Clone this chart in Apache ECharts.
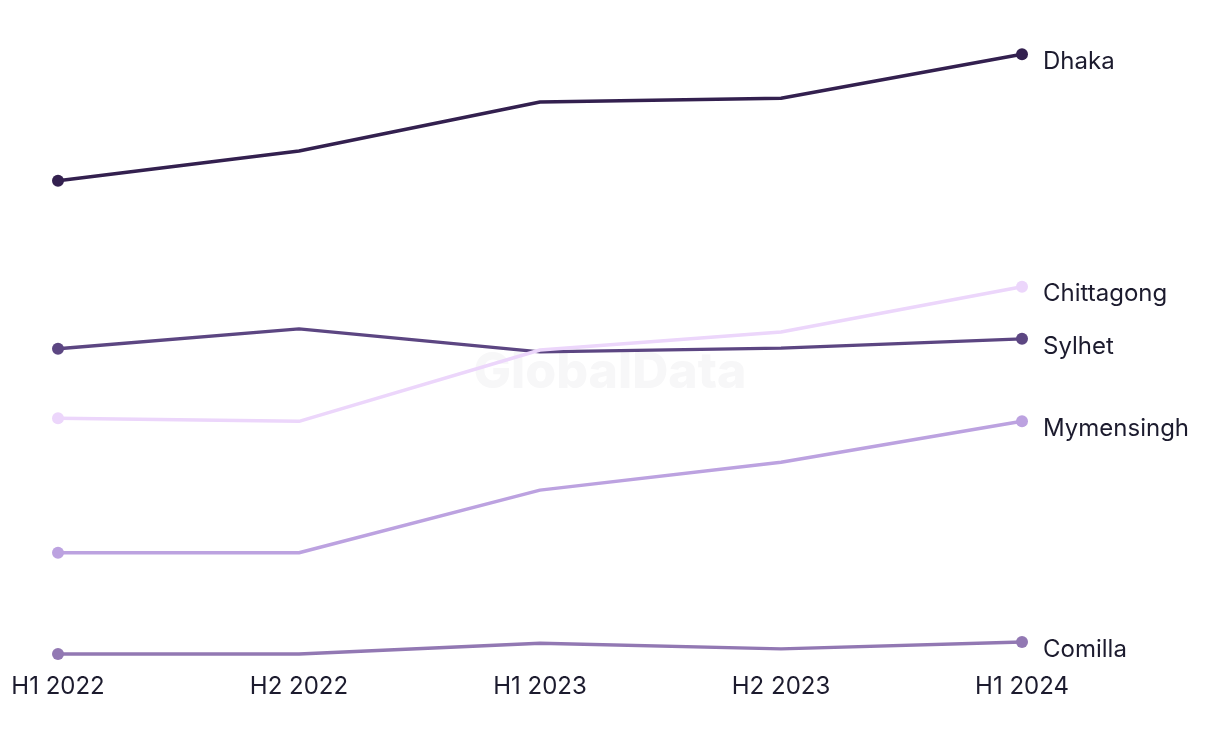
<!DOCTYPE html>
<html>
<head>
<meta charset="utf-8">
<script src="https://cdn.jsdelivr.net/npm/echarts@6/dist/echarts.min.js"></script>
<style>
  html, body { margin: 0; padding: 0; background: #fff; }
  #main { width: 1220px; height: 744px; }
</style>
</head>
<body>
<div id="main"></div>
<script>
	// categories & values (arbitrary index units)
	var categories = ['H1 2022', 'H2 2022', 'H1 2023', 'H2 2023', 'H1 2024'];
	var dhaka      = [77.3, 82.1, 90.0, 90.6, 97.7];
	var sylhet     = [50.2, 53.4, 49.7, 50.3, 51.8];
	var chittagong = [39.0, 38.5, 50.0, 52.9, 60.2];
	var mymensingh = [17.3, 17.3, 27.4, 31.9, 38.5];
	var comilla    = [0.97, 0.97, 2.7, 1.8, 2.9];

	var FONT = 'Inter, "Noto Sans", sans-serif';
	var myChart = echarts.init(document.getElementById('main'));

	// only first and last point get a dot
	function endsOnly(data) {
		return data.map(function(v, i) {
			var isEnd = (i === 0 || i === data.length - 1);
			return { value: v, symbol: isEnd ? 'circle' : 'none' };
		});
	}

	function mkSeries(name, data, color, z) {
		return {
			name: name,
			type: 'line',
			data: endsOnly(data),
			z: z,
			symbol: 'circle',
			symbolSize: 12,
			showAllSymbol: true,
			lineStyle: { width: 3.4, color: color },
			itemStyle: { color: color },
			endLabel: {
				show: true,
				formatter: '{a}',
				distance: 21,
				offset: [0, 7.5],
				color: '#1c1b2e',
				fontFamily: FONT,
				fontSize: 24
			},
			emphasis: { disabled: true },
			animation: false
		};
	}

	var option = {
		backgroundColor: '#fff',
		graphic: [{
			type: 'text',
			left: 'center',
			top: 348,
			z: 0,
			silent: true,
			style: {
				text: 'GlobalData',
				fill: '#f7f7f8',
				font: '800 50px ' + FONT
			}
		}],
		grid: { left: 58, right: 198, top: 40, bottom: 84 },
		xAxis: {
			type: 'category',
			data: categories,
			boundaryGap: false,
			axisLine: { show: false },
			axisTick: { show: false },
			axisLabel: { color: '#1c1b2e', fontFamily: FONT, fontSize: 24, margin: 15 }
		},
		yAxis: {
			type: 'value',
			min: 0,
			max: 100,
			show: false,
			splitLine: { show: false }
		},
		series: [
			mkSeries('Comilla', comilla, '#9278b3', 2),
			mkSeries('Mymensingh', mymensingh, '#bca2e0', 3),
			mkSeries('Sylhet', sylhet, '#5c4682', 4),
			mkSeries('Chittagong', chittagong, '#ecd6fb', 5),
			mkSeries('Dhaka', dhaka, '#33204f', 6)
		]
	};
	myChart.setOption(option);
</script>
</body>
</html>
